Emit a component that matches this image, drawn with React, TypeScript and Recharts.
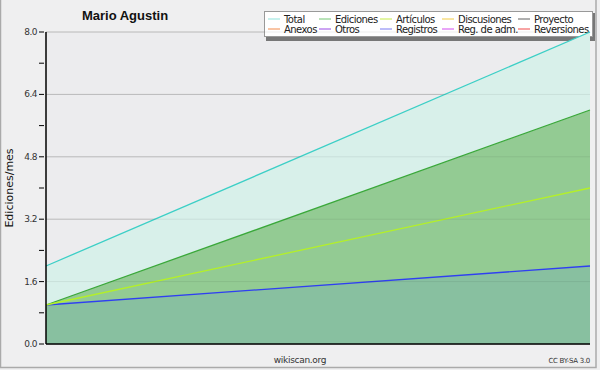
import React from 'react';
import { ComposedChart, Area, Line, XAxis, YAxis, CartesianGrid, ReferenceLine, Customized } from 'recharts';

const xPoints = [0, 1];
const totalValues = [2, 8];
const edicionesValues = [1, 6];
const articulosValues = [1, 4];
const registrosValues = [1, 2];

const yTicks = [0, 0.8, 1.6, 2.4, 3.2, 4.0, 4.8, 5.6, 6.4, 7.2, 8.0];
const majorTicks = [0, 1.6, 3.2, 4.8, 6.4, 8.0];

const legendRows = [
  [
    { name: 'Total', color: '#8fe3dc' },
    { name: 'Ediciones', color: '#72c672' },
    { name: 'Artículos', color: '#c6ec48' },
    { name: 'Discusiones', color: '#f2cc44' },
    { name: 'Proyecto', color: '#606060' },
  ],
  [
    { name: 'Anexos', color: '#f28a4a' },
    { name: 'Otros', color: '#9a48e6' },
    { name: 'Registros', color: '#7a7af2' },
    { name: 'Reg. de adm.', color: '#d24cf0' },
    { name: 'Reversiones', color: '#f04848' },
  ],
];
const legendCols = [268, 319, 380, 442, 518];

const data = xPoints.map((x, i) => ({
  x,
  total: totalValues[i],
  ediciones: edicionesValues[i],
  articulos: articulosValues[i],
  registros: registrosValues[i],
}));

const FONT = '"DejaVu Sans", sans-serif';

function YTick(props: any) {
  const { x, y, payload } = props;
  const isMajor = majorTicks.some((t) => Math.abs(t - payload.value) < 1e-6);
  return (
    <g>
      <line x1={x + 1} x2={x + 6} y1={y} y2={y} stroke="#000" strokeWidth={1} />
      {isMajor && (
        <text x={x - 1} y={y} dy={3} textAnchor="end" fontSize={9} fill="#333" fontFamily={FONT} letterSpacing={-0.5}>
          {payload.value.toFixed(1)}
        </text>
      )}
    </g>
  );
}

function LegendBox() {
  return (
    <g>
      <rect x={266} y={13} width={329} height={28} fill="#777" />
      <rect x={264.5} y={11.5} width={328} height={25} fill="#fff" stroke="#999" strokeWidth={1} />
      {legendRows.map((row, r) =>
        row.map((item, c) => {
          const lx = legendCols[c];
          const ly = 19 + r * 10;
          return (
            <g key={item.name}>
              <line x1={lx} x2={lx + 12} y1={ly} y2={ly} stroke={item.color} strokeWidth={1} />
              <text x={lx + 16} y={ly} dy={3.5} fontSize={10} fill="#222" fontFamily={FONT} letterSpacing={-0.55}>
                {item.name}
              </text>
            </g>
          );
        })
      )}
    </g>
  );
}

function Frame() {
  return (
    <g>
      <rect x={0.5} y={-2} width={595.5} height={369.5} fill="none" stroke="#aaa" strokeWidth={1.5} />
      <text
        x={125}
        y={20}
        textAnchor="middle"
        fontSize={13}
        fontWeight="bold"
        fill="#111"
        fontFamily='"Liberation Sans", Arial, sans-serif'
      >
        Mario Agustin
      </text>
      <text x={300} y={363} textAnchor="middle" fontSize={9} fill="#333" fontFamily={FONT} letterSpacing={-0.3}>
        wikiscan.org
      </text>
      <text x={590} y={363} textAnchor="end" fontSize={7} fill="#333" fontFamily={FONT} letterSpacing={-0.3}>
        CC BY-SA 3.0
      </text>
      <text
        x={13}
        y={188}
        textAnchor="middle"
        fontSize={11}
        fill="#111"
        fontFamily={FONT}
        transform="rotate(-90 13 188)"
      >
        Ediciones/mes
      </text>
    </g>
  );
}

export default function App() {
  return (
    <div style={{ position: 'absolute', left: 0, top: 0, width: 600, height: 370, background: '#efeff0' }}>
      <ComposedChart width={600} height={370} data={data} margin={{ top: 32, right: 10, left: 0, bottom: 0 }}>
        <CartesianGrid
          horizontal
          vertical={false}
          horizontalValues={majorTicks}
          stroke="#c8c8c8"
          fill="#ececee"
          strokeWidth={1}
        />
        <XAxis
          dataKey="x"
          type="number"
          domain={[0, 1]}
          ticks={[0, 1]}
          tick={false}
          tickLine={{ stroke: '#000' }}
          tickSize={4}
          axisLine={{ stroke: '#000', strokeWidth: 1.5 }}
          height={26}
        />
        <YAxis
          type="number"
          domain={[0, 8]}
          ticks={yTicks}
          interval={0}
          tick={<YTick />}
          tickLine={false}
          axisLine={{ stroke: '#000', strokeWidth: 1.5 }}
          width={46}
        />
        <Area
          type="linear"
          dataKey="total"
          stroke="#3ccfc6"
          strokeWidth={1.3}
          fill="#d8f0ea"
          fillOpacity={1}
          isAnimationActive={false}
        />
        <Area
          type="linear"
          dataKey="ediciones"
          stroke="#3aa83a"
          strokeWidth={1.3}
          fill="#93cb93"
          fillOpacity={1}
          isAnimationActive={false}
        />
        <Line
          type="linear"
          dataKey="articulos"
          stroke="#b4f028"
          strokeWidth={1.3}
          dot={false}
          isAnimationActive={false}
        />
        <Area
          type="linear"
          dataKey="registros"
          stroke="#2f3ff2"
          strokeWidth={1.3}
          fill="#88c0a0"
          fillOpacity={1}
          isAnimationActive={false}
        />
        {majorTicks.slice(1).map((t) => (
          <ReferenceLine key={t} y={t} stroke="#000" strokeOpacity={0.07} />
        ))}
        <Customized component={<LegendBox />} />
        <Customized component={<Frame />} />
      </ComposedChart>
    </div>
  );
}
